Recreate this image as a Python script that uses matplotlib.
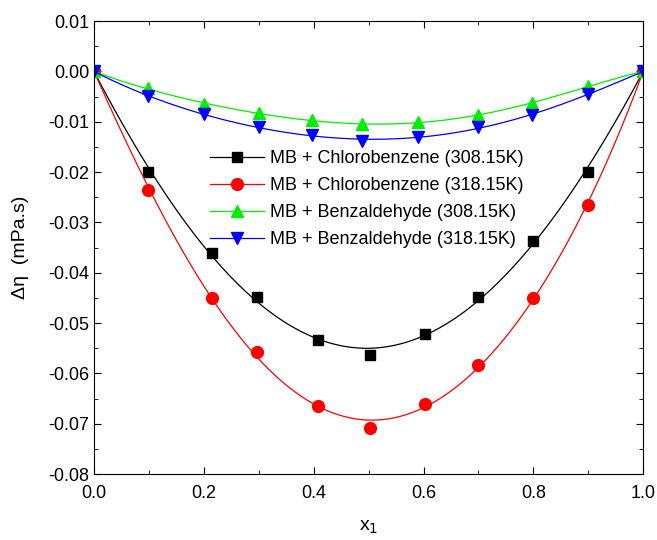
import numpy as np
import matplotlib.pyplot as plt
from matplotlib.ticker import MultipleLocator, FormatStrFormatter

plt.rcParams['font.family'] = ['Liberation Sans', 'DejaVu Sans']

# mole fraction x1 and excess viscosity (mPa.s)
x_cb = [0.0, 0.098, 0.215, 0.297, 0.408, 0.503, 0.603, 0.699, 0.80, 0.90, 1.0]
cb_308 = [0.0, -0.0200, -0.0361, -0.0448, -0.0534, -0.0564, -0.0522, -0.0448, -0.0337, -0.0199, 0.0]
cb_318 = [0.0, -0.0235, -0.0450, -0.0558, -0.0665, -0.0709, -0.0661, -0.0583, -0.0450, -0.0266, 0.0]

x_bz = [0.0, 0.098, 0.200, 0.301, 0.397, 0.488, 0.590, 0.699, 0.798, 0.90, 1.0]
bz_308 = [0.0, -0.0033, -0.0065, -0.0083, -0.0097, -0.0105, -0.0101, -0.0087, -0.0063, -0.0029, 0.0]
bz_318 = [0.0, -0.0049, -0.0085, -0.0111, -0.0127, -0.0138, -0.0130, -0.0111, -0.0087, -0.0045, 0.0]

labels = ['MB + Chlorobenzene (308.15K)', 'MB + Chlorobenzene (318.15K)',
          'MB + Benzaldehyde (308.15K)', 'MB + Benzaldehyde (318.15K)']


def rk_fit(x, y, xs, order=4):
    # Redlich-Kister style fit: y = x(1-x) * sum a_k (1-2x)^k
    x = np.asarray(x)
    y = np.asarray(y)
    m = (x > 0) & (x < 1)
    z = 1 - 2 * x[m]
    A = np.vstack([x[m] * (1 - x[m]) * z ** k for k in range(order)]).T
    coef, *_ = np.linalg.lstsq(A, y[m], rcond=None)
    zs = 1 - 2 * xs
    return sum(c * xs * (1 - xs) * zs ** k for k, c in enumerate(coef))


fig = plt.figure(figsize=(6.57, 5.4), dpi=100)
ax = fig.add_axes([0.143, 0.122, 0.836, 0.839])

xs = np.linspace(0, 1, 300)
series = [
    (x_cb, cb_308, 'black', 's', 7.5),
    (x_cb, cb_318, 'red', 'o', 8.5),
    (x_bz, bz_308, '#00ee00', '^', 8.5),
    (x_bz, bz_318, 'blue', 'v', 8.5),
]
for (x, y, c, mk, ms), lab in zip(series, labels):
    ax.plot(xs, rk_fit(x, y, xs), color=c, lw=0.9)
    ax.plot(x, y, linestyle='none', marker=mk, color=c, ms=ms)
    ax.plot([], [], color=c, lw=0.9, marker=mk, ms=ms, label=lab)

ax.set_xlim(0, 1.0)
ax.set_ylim(-0.08, 0.01)
ax.xaxis.set_major_locator(MultipleLocator(0.2))
ax.xaxis.set_minor_locator(MultipleLocator(0.1))
ax.yaxis.set_major_locator(MultipleLocator(0.01))
ax.yaxis.set_minor_locator(MultipleLocator(0.005))
ax.xaxis.set_major_formatter(FormatStrFormatter('%.1f'))
ax.yaxis.set_major_formatter(FormatStrFormatter('%.2f'))
ax.tick_params(which='both', direction='in', top=True, right=True, labelsize=13)
ax.tick_params(which='major', length=5)
ax.tick_params(which='minor', length=3)
ax.tick_params(axis='x', pad=8)

ax.set_xlabel('x$_1$', fontsize=14, labelpad=12)
ax.set_ylabel('Δη  (mPa.s)', fontsize=14, labelpad=14)

ax.legend(loc='upper left', bbox_to_anchor=(0.195, 0.735), frameon=False,
          fontsize=13, handlelength=3.0, labelspacing=0.55, borderpad=0,
          handletextpad=0.3)

fig.savefig('out.png', dpi=100)
